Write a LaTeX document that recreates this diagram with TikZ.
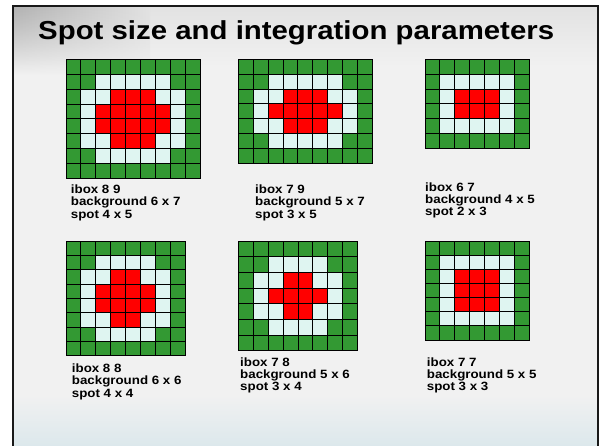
\documentclass[tikz,border=0pt]{standalone}
\usepackage{fontspec}
\setmainfont{Liberation Sans}
\usetikzlibrary{fadings}
\definecolor{cellG}{HTML}{339933}
\definecolor{cellL}{HTML}{DFF5F1}
\definecolor{cellR}{HTML}{FF0000}
\definecolor{slidebg}{HTML}{F1F1F1}
\definecolor{titlebg}{HTML}{E2E2E2}
\definecolor{bluebg}{HTML}{DCE8EC}
\tikzfading[name=fadedown, top color=transparent!0, bottom color=transparent!100]
\newcommand\drawspotgrid[5]{%
  \foreach \rowlist [count=\r from 0] in {#5} {%
    \foreach \c [count=\k from 0] in \rowlist {%
      \filldraw[cellstyle, fill=cell\c] ({#1+\k*#3},{#2+\r*#4}) rectangle ++(#3,#4);
    }%
  }%
}
\begin{document}
\begin{tikzpicture}[x=1pt,y=-1pt,
  cellstyle/.style={draw=black, line width=0.85pt},
  lbl/.style={anchor=north west, inner sep=0pt, align=left, xscale=1.11,
    font=\bfseries\fontsize{12}{12.3}\selectfont},
  ttl/.style={anchor=base west, inner sep=0pt, xscale=1.13,
    font=\bfseries\fontsize{26}{30}\selectfont}]
\useasboundingbox (0,0) rectangle (604,446);
\fill[white] (0,0) rectangle (604,446);
% slide background
\fill[slidebg] (13,6) rectangle (598,446);
\shade[top color=titlebg, bottom color=slidebg] (13,6) rectangle (598,66);
\shade[left color=gray!60, right color=titlebg, path fading=fadedown] (14,7) rectangle (150,75);
\shade[top color=slidebg, bottom color=bluebg] (13,395) rectangle (598,446);
\draw[line width=2pt, black!90] (13,446) -- (13,6) -- (598,6) -- (598,446);
% title
\node[ttl] (title) at (38,39.5) {Spot size and integration parameters};
% grids
\drawspotgrid{66}{59.3}{14.9}{14.9}{%
{G,G,G,G,G,G,G,G,G},
{G,G,L,L,L,L,L,G,G},
{G,L,L,R,R,R,L,L,G},
{G,L,R,R,R,R,R,L,G},
{G,L,R,R,R,R,R,L,G},
{G,L,L,R,R,R,L,L,G},
{G,G,L,L,L,L,L,G,G},
{G,G,G,G,G,G,G,G,G}}
\drawspotgrid{238.3}{59.3}{14.9}{14.86}{%
{G,G,G,G,G,G,G,G,G},
{G,G,L,L,L,L,L,G,G},
{G,L,L,R,R,R,L,L,G},
{G,L,R,R,R,R,R,L,G},
{G,L,L,R,R,R,L,L,G},
{G,G,L,L,L,L,L,G,G},
{G,G,G,G,G,G,G,G,G}}
\drawspotgrid{425}{59.3}{14.9}{14.83}{%
{G,G,G,G,G,G,G},
{G,L,L,L,L,L,G},
{G,L,R,R,R,L,G},
{G,L,R,R,R,L,G},
{G,L,L,L,L,L,G},
{G,G,G,G,G,G,G}}
\drawspotgrid{66}{241}{14.88}{14.34}{%
{G,G,G,G,G,G,G,G},
{G,G,L,L,L,L,G,G},
{G,L,L,R,R,L,L,G},
{G,L,R,R,R,R,L,G},
{G,L,R,R,R,R,L,G},
{G,L,L,R,R,L,L,G},
{G,G,L,L,L,L,G,G},
{G,G,G,G,G,G,G,G}}
\drawspotgrid{238.3}{241}{14.92}{15.7}{%
{G,G,G,G,G,G,G,G},
{G,G,L,L,L,L,G,G},
{G,L,L,R,R,L,L,G},
{G,L,R,R,R,R,L,G},
{G,L,L,R,R,L,L,G},
{G,G,L,L,L,L,G,G},
{G,G,G,G,G,G,G,G}}
\drawspotgrid{425}{241}{14.9}{14.14}{%
{G,G,G,G,G,G,G},
{G,L,L,L,L,L,G},
{G,L,R,R,R,L,G},
{G,L,R,R,R,L,G},
{G,L,R,R,R,L,G},
{G,L,L,L,L,L,G},
{G,G,G,G,G,G,G}}
% labels
\node[lbl] (lab1) at (70.7,184.6) {ibox 8 9\\background 6 x 7\\spot 4 x 5};
\node[lbl] (lab2) at (255,184.6) {ibox 7 9\\background 5 x 7\\spot 3 x 5};
\node[lbl] (lab3) at (425,182.5) {ibox 6 7\\background 4 x 5\\spot 2 x 3};
\node[lbl] (lab4) at (71.7,363.7) {ibox 8 8\\background 6 x 6\\spot 4 x 4};
\node[lbl] (lab5) at (240,357.4) {ibox 7 8\\background 5 x 6\\spot 3 x 4};
\node[lbl] (lab6) at (426.7,357.4) {ibox 7 7\\background 5 x 5\\spot 3 x 3};
\end{tikzpicture}
\end{document}
